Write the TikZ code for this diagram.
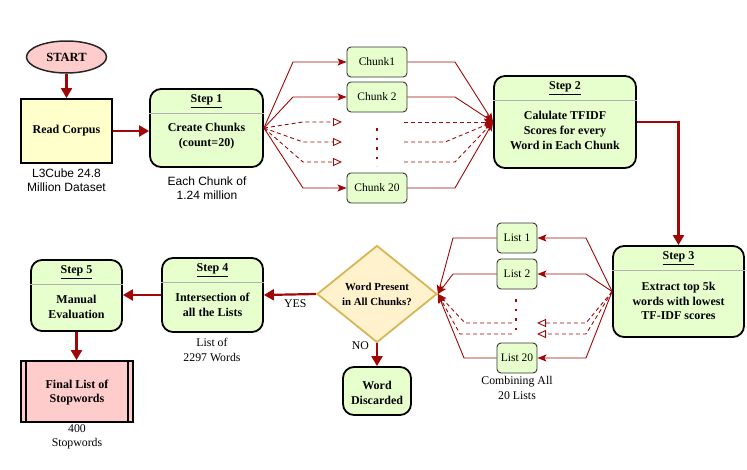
\documentclass[tikz,border=0pt]{standalone}
\usepackage{fontspec}
\setmainfont{Liberation Serif}
\newfontfamily\sanslbl{Liberation Sans}
\usetikzlibrary{arrows.meta,shapes.geometric}

\definecolor{flowred}{RGB}{160,8,8}
\definecolor{stepgreen}{RGB}{230,255,204}
\definecolor{readyellow}{RGB}{255,255,204}
\definecolor{endpink}{RGB}{255,204,204}
\definecolor{askfill}{RGB}{255,242,204}
\definecolor{askgold}{RGB}{214,182,86}

\tikzset{
  flow/.style={draw=flowred, line width=2.2pt, -{Triangle[length=10pt,width=11pt]}},
  link/.style={draw=flowred, line width=0.9pt, -{Stealth[length=9pt,width=7pt,inset=2pt]}},
  ghost/.style={draw=flowred, line width=0.9pt, dash pattern=on 4pt off 3pt, -{Triangle[open,length=9pt,width=8pt]}},
  ghostlink/.style={draw=flowred, line width=0.9pt, dash pattern=on 4pt off 3pt, -{Stealth[length=9pt,width=7pt,inset=2pt]}},
  stepbox/.style={rectangle, rounded corners=11pt, draw=black, line width=1.8pt, fill=stepgreen, inner sep=0pt},
  piece/.style={rectangle, rounded corners=4pt, draw=black!80, line width=0.9pt, fill=stepgreen,
    minimum height=30pt, inner sep=0pt, font=\fontsize{11.5}{13}\selectfont},
  boldtxt/.style={font=\fontsize{12}{14.8}\selectfont\bfseries, align=center, inner sep=0pt},
  note/.style={font=\fontsize{11.8}{14.5}\selectfont, align=center, inner sep=0pt},
  sansnote/.style={font=\sanslbl\fontsize{12}{13.8}\selectfont, align=center, inner sep=0pt},
  sepline/.style={draw=black!30, line width=1.3pt},
  vdots/.style={draw=flowred, line width=1.6pt, dash pattern=on 2.5pt off 7pt},
}

% header and separator of a step box
\newcommand{\stephead}[2]{%
  \node[boldtxt] (#1-head) at ([yshift=-13pt]#1.north) {\underline{#2}};
  \draw[sepline] ([yshift=-25.5pt]#1.north west) -- ([yshift=-25.5pt]#1.north east);
}

\begin{document}
\begin{tikzpicture}[x=1pt, y=-1pt]
  \useasboundingbox (0,0) rectangle (747,469);

  % Start and corpus
  \node[ellipse, draw=black!85, line width=1.5pt, fill=endpink, minimum width=80pt, minimum height=32pt,
    inner sep=0pt, font=\fontsize{12.5}{14}\selectfont\bfseries] (start) at (66.5,57) {START};
  \node[rectangle, draw=black, line width=1.8pt, fill=readyellow, minimum width=91pt, minimum height=64pt,
    inner sep=0pt, font=\fontsize{12}{14}\selectfont\bfseries] (read) at (66.5,131) {Read Corpus};
  \node[sansnote] (read-note) at (66.5,180) {L3Cube 24.8\\Million Dataset};
  \draw[flow] (start.south) -- (read.north);

  % Step 1
  \node[stepbox, minimum width=113pt, minimum height=78pt] (s1) at (206.5,128) {};
  \stephead{s1}{Step 1}
  \node[boldtxt] (s1-body) at ([yshift=-8.5pt]s1.center) {Create Chunks\\(count=20)};
  \node[sansnote] (s1-note) at (207,188) {Each Chunk of\\1.24 million};
  \draw[flow] (read.east) -- (read.east -| s1.west);

  % Chunks
  \node[piece, minimum width=60pt] (c1) at (377,62) {Chunk1};
  \node[piece, minimum width=60pt] (c2) at (377,97) {Chunk 2};
  \node[piece, minimum width=60pt] (c20) at (377,188) {Chunk 20};
  \draw[vdots] (377,128) -- (377,166);
  \coordinate (g1) at (342,122);
  \coordinate (g2) at (342,142);
  \coordinate (g3) at (342,162);
  \coordinate (h1) at (404,122);
  \coordinate (h2) at (404,142);
  \coordinate (h3) at (404,162);

  % Step 2
  \node[stepbox, minimum width=142pt, minimum height=92pt] (s2) at (565,122) {};
  \stephead{s2}{Step 2}
  \node[boldtxt] (s2-body) at ([yshift=-8.5pt]s2.center) {Calulate TFIDF\\Scores for every\\Word in Each Chunk};

  \draw[link] (s1.east) -- (293,62) -- (c1.west);
  \draw[link] (s1.east) -- (293,97) -- (c2.west);
  \draw[ghost] (s1.east) -- (303,122) -- (g1);
  \draw[ghost] (s1.east) -- (303,142) -- (g2);
  \draw[ghost] (s1.east) -- (303,162) -- (g3);
  \draw[link] (s1.east) -- (303,188) -- (c20.west);

  \draw[link] (c1.east) -- (455,62) -- (s2.west);
  \draw[link] (c2.east) -- (455,97) -- (s2.west);
  \draw[ghostlink] (h1) -- (s2.west);
  \draw[ghostlink] (h2) -- (445,142) -- (s2.west);
  \draw[ghostlink] (h3) -- (455,162) -- (s2.west);
  \draw[link] (c20.east) -- (455,188) -- (s2.west);

  % Step 3
  \node[stepbox, minimum width=131pt, minimum height=91pt] (s3) at (678.5,291.5) {};
  \stephead{s3}{Step 3}
  \node[boldtxt] (s3-body) at ([yshift=-9.5pt]s3.center) {Extract top 5k\\words with lowest\\TF-IDF scores};
  \draw[flow] (s2.east) -| (s3.north);

  % Lists
  \node[piece, minimum width=40pt] (l1) at (517,238) {List 1};
  \node[piece, minimum width=40pt] (l2) at (517,274) {List 2};
  \node[piece, minimum width=40pt] (l20) at (517,358) {List 20};
  \node[note] (l-note) at (517,388) {Combining All\\20 Lists};
  \draw[vdots] (516,299) -- (516,336);
  \coordinate (k1) at (537,323);
  \coordinate (k2) at (537,334);
  \coordinate (m1) at (512,323);
  \coordinate (m2) at (512,334);

  % Decision
  \node[diamond, draw=askgold, line width=1.8pt, fill=askfill, minimum width=120pt, minimum height=97pt,
    inner sep=0pt, align=center, font=\fontsize{10.8}{15}\selectfont\bfseries] (q) at (377,294)
    {Word Present\\in All Chunks?};

  \draw[link] (s3.west) -- (586,238) -- (l1.east);
  \draw[link] (s3.west) -- (586,274) -- (l2.east);
  \draw[ghost] (s3.west) -- (586,323) -- (k1);
  \draw[ghost] (s3.west) -- (586,334) -- (k2);
  \draw[link] (s3.west) -- (586,358) -- (l20.east);

  \draw[link] (l1.west) -- (453,238) -- (q.east);
  \draw[link] (l2.west) -- (453,274) -- (q.east);
  \draw[ghostlink] (m1) -- (465,323) -- (q.east);
  \draw[ghostlink] (m2) -- (460,334) -- (q.east);
  \draw[link] (l20.west) -- (464,358) -- (q.east);

  % Discarded words
  \node[stepbox, minimum width=68pt, minimum height=48pt] (wd) at (377,391) {};
  \node[boldtxt] (wd-body) at ([yshift=-1.5pt]wd.center) {Word\\Discarded};
  \draw[flow] (q.south) -- node[pos=0.1, left=7pt, note] (no) {NO} (wd.north);

  % Step 4
  \node[stepbox, minimum width=101pt, minimum height=74pt] (s4) at (212.5,295) {};
  \stephead{s4}{Step 4}
  \node[boldtxt] (s4-body) at ([yshift=-10pt]s4.center) {Intersection of\\all the Lists};
  \node[note] (s4-note) at (212,350) {List of\\2297 Words};
  \draw[flow] (q.west) -- node[pos=0.4, below=4pt, note] (yes) {YES} (s4.east);

  % Step 5
  \node[stepbox, minimum width=91pt, minimum height=71pt] (s5) at (76.5,295.5) {};
  \stephead{s5}{Step 5}
  \node[boldtxt] (s5-body) at ([yshift=-11.5pt]s5.center) {Manual\\Evaluation};
  \draw[flow] (s4.west) -- (s4.west -| s5.east);

  % Final list
  \node[rectangle, draw=black, line width=1.8pt, fill=endpink, minimum width=112pt, minimum height=61pt,
    inner sep=0pt] (fin) at (77,391.5) {};
  \draw[line width=1.8pt] ([xshift=6pt]fin.north west) -- ([xshift=6pt]fin.south west);
  \draw[line width=1.8pt] ([xshift=-6pt]fin.north east) -- ([xshift=-6pt]fin.south east);
  \node[boldtxt] (fin-body) at ([yshift=-1pt]fin.center) {Final List of\\Stopwords};
  \node[note] (fin-note) at (77,437) {400\\Stopwords};
  \draw[flow] (s5.south) -- (s5.south |- fin.north);
\end{tikzpicture}
\end{document}
